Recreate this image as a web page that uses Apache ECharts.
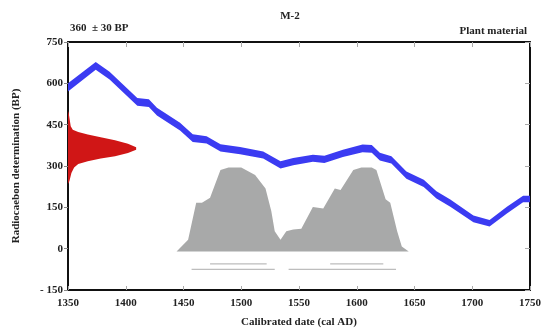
<!DOCTYPE html>
<html><head><meta charset="utf-8">
<script src="https://cdn.jsdelivr.net/npm/echarts@6/dist/echarts.min.js"></script>
<style>html,body{margin:0;padding:0;background:#fff}#c{width:542px;height:328px}</style>
</head><body><div id="c"></div>
<script>
// Calibration curve (cal AD vs BP) with its error band
const curveYears = [1350,1374,1386,1410,1420,1427,1447,1458,1470,1482,1499,1519,1534,1545,1562,1572,1588,1605,1613,1620,1630,1643,1658,1669,1681,1701,1715,1730,1744,1750];
const curveBP    = [585,663,628,533,528,497,443,401,395,366,356,340,304,316,328,324,346,364,362,334,322,267,237,195,165,108,92,140,180,180];
const curveErr   = [15,14,14,14,14,14,14,14,13,13,13,13,13,13,13,13,13,14,14,14,13,13,13,13,13,12,12,12,12,12];
// Radiocarbon date 360 ± 30 BP (relative probability along the BP axis)
const dateBP   = [500,492,444,432,423,414,404,393,381,368,359,347,335,327,317,307,295,275,245,235];
const dateProb = [0,0.01,0.04,0.07,0.15,0.29,0.48,0.69,0.88,1.0,1.0,0.88,0.69,0.48,0.29,0.15,0.09,0.05,0.02,0];
// Calibrated date distribution (relative probability)
const calYears = [1444,1454,1461,1466,1473,1482,1489,1500,1512,1521,1526,1529,1534,1539,1545,1552,1562,1571,1581,1586,1597,1604,1613,1617,1625,1629,1635,1639,1645];
const calProb  = [0,0.14,0.58,0.58,0.64,0.97,1.0,1.0,0.91,0.75,0.48,0.24,0.14,0.24,0.26,0.27,0.53,0.51,0.75,0.73,0.97,1.0,1.0,0.97,0.62,0.58,0.24,0.06,0];
// Calibrated ranges (68.2% and 95.4%)
const range68 = [[1473,1522],[1577,1623]];
const range95 = [[1457,1529],[1541,1634]];
const xTicks = [1350,1400,1450,1500,1550,1600,1650,1700,1750];
const yTicks = [-150,0,150,300,450,600,750];

const FONT = '"Liberation Serif","DejaVu Serif",serif';
const redScale = 59;      // years of width at peak
const calBase = -10, calScale = 305;
const range68Y = -55, range95Y = -75;

const chart = echarts.init(document.getElementById('c'));

function bandItem(params, api){
  const up = [], lo = [];
  for (let i=0;i<curveYears.length;i++){
    up.push(api.coord([curveYears[i], curveBP[i]+curveErr[i]]));
    lo.push(api.coord([curveYears[i], curveBP[i]-curveErr[i]]));
  }
  return {type:'polygon', shape:{points: up.concat(lo.reverse())}, style:{fill:'#3b3bf2'}};
}
function redItem(params, api){
  const pts = [api.coord([1350, dateBP[0]])];
  for (let i=0;i<dateBP.length;i++) pts.push(api.coord([1350 + dateProb[i]*redScale, dateBP[i]]));
  pts.push(api.coord([1350, dateBP[dateBP.length-1]]));
  return {type:'polygon', shape:{points: pts}, style:{fill:'#d01616'}};
}
function grayItem(params, api){
  const pts = [api.coord([calYears[0], calBase])];
  for (let i=0;i<calYears.length;i++) pts.push(api.coord([calYears[i], calBase + calProb[i]*calScale]));
  pts.push(api.coord([calYears[calYears.length-1], calBase]));
  return {type:'polygon', shape:{points: pts}, style:{fill:'#a8a9a9'}};
}
function rangeItem(params, api){
  const kids = [];
  const add = (r, y) => r.forEach(s => {
    const a = api.coord([s[0], y]), b = api.coord([s[1], y]);
    kids.push({type:'line', shape:{x1:a[0],y1:a[1],x2:b[0],y2:b[1]}, style:{stroke:'#bdbdbd', lineWidth:1.3}});
  });
  add(range68, range68Y); add(range95, range95Y);
  return {type:'group', children:kids};
}

const axisLabel = {fontFamily:FONT, fontWeight:'bold', fontSize:11, color:'#222'};
chart.setOption({
  animation:false,
  title:[
    {text:'M-2', left:285, top:6, textAlign:'center', textStyle:{fontFamily:FONT, fontWeight:'bold', fontSize:11, color:'#222'}},
    {text:'360  ± 30 BP', left:65, top:18, textStyle:{fontFamily:FONT, fontWeight:'bold', fontSize:11, color:'#222'}},
    {text:'Plant material', right:10, top:21, textStyle:{fontFamily:FONT, fontWeight:'bold', fontSize:11, color:'#222'}}
  ],
  grid:{left:68, right:12, top:42, bottom:38, containLabel:false, outerBoundsMode:'none'},
  xAxis:[
    {type:'value', min:1350, max:1750, interval:50, position:'bottom',
     name:'Calibrated date (cal AD)', nameLocation:'middle', nameGap:27,
     nameTextStyle:{fontFamily:FONT, fontWeight:'bold', fontSize:11, color:'#222'},
     axisLine:{show:true, onZero:false, lineStyle:{color:'#111', width:2}},
     axisTick:{show:true, inside:true, length:4, lineStyle:{color:'#aaa'}},
     axisLabel:Object.assign({margin:8, formatter:v => String(v)}, axisLabel), splitLine:{show:false}},
    {type:'value', min:1350, max:1750, interval:50, position:'top',
     axisLine:{show:true, onZero:false, lineStyle:{color:'#111', width:2}},
     axisTick:{show:true, inside:true, length:5, lineStyle:{color:'#aaa'}},
     axisLabel:{show:false}, splitLine:{show:false}}
  ],
  yAxis:[
    {type:'value', min:-150, max:750, interval:150, position:'left',
     name:'Radiocaebon determination (BP)', nameLocation:'middle', nameGap:46,
     nameTextStyle:{fontFamily:FONT, fontWeight:'bold', fontSize:11, color:'#222'},
     axisLine:{show:true, onZero:false, lineStyle:{color:'#111', width:2}},
     axisTick:{show:true, inside:false, length:4, lineStyle:{color:'#888'}},
     axisLabel:Object.assign({margin:5, formatter:v => v<0 ? '- '+Math.abs(v) : String(v)}, axisLabel),
     splitLine:{show:false}},
    {type:'value', min:-150, max:750, interval:150, position:'right',
     axisLine:{show:true, onZero:false, lineStyle:{color:'#111', width:2}},
     axisTick:{show:true, inside:true, length:5, lineStyle:{color:'#aaa'}},
     axisLabel:{show:false}, splitLine:{show:false}}
  ],
  series:[
    {type:'custom', renderItem:grayItem, data:[0], xAxisIndex:0, yAxisIndex:0, silent:true, z:1},
    {type:'custom', renderItem:rangeItem, data:[0], xAxisIndex:0, yAxisIndex:0, silent:true, z:1},
    {type:'custom', renderItem:redItem, data:[0], xAxisIndex:0, yAxisIndex:0, silent:true, z:2},
    {type:'custom', renderItem:bandItem, data:[0], xAxisIndex:0, yAxisIndex:0, silent:true, z:3}
  ]
});
</script></body></html>
